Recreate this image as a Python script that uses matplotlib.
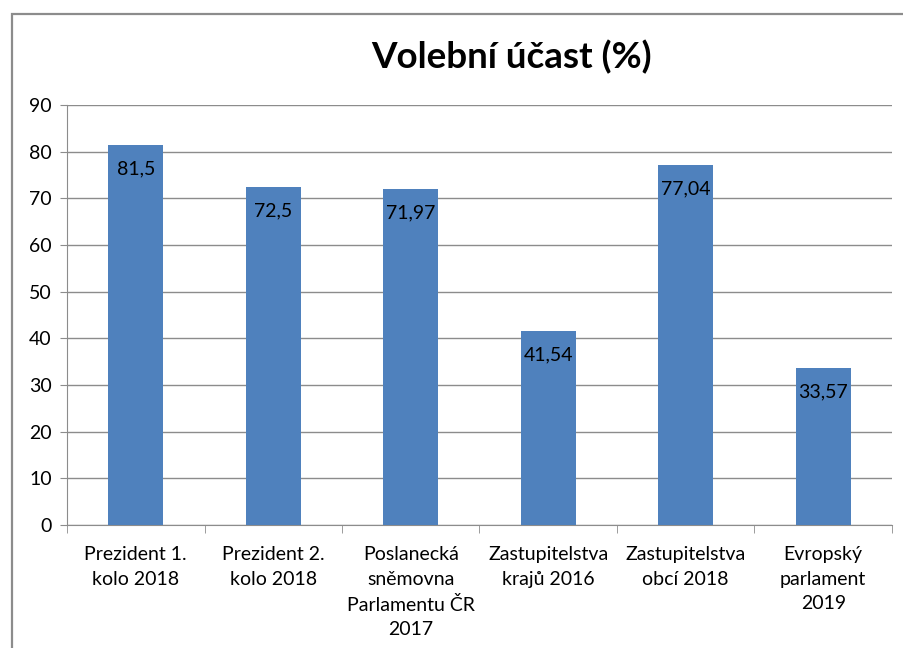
import numpy as np
import matplotlib.pyplot as plt
from matplotlib.patches import Rectangle

# data
categories = ['Prezident 1.\nkolo 2018', 'Prezident 2.\nkolo 2018',
              'Poslanecká\nsněmovna\nParlamentu ČR\n2017',
              'Zastupitelstva\nkrajů 2016', 'Zastupitelstva\nobcí 2018',
              'Evropský\nparlament\n2019']
turnout = [81.5, 72.5, 71.97, 41.54, 77.04, 33.57]
value_labels = ['81,5', '72,5', '71,97', '41,54', '77,04', '33,57']

plt.rcParams['font.family'] = ['Lato', 'DejaVu Sans']

fig = plt.figure(figsize=(9.04, 6.48), dpi=100)
W, H = 904, 648

# outer chart frame (cropped at right and bottom)
fig.patches.append(Rectangle((12 / W, -0.1), 2, 1 - 14 / H + 0.1,
                             transform=fig.transFigure, fill=False,
                             edgecolor='#8c8c8c', linewidth=1.6))

ax = fig.add_axes([67 / W, 1 - 525 / H, (892 - 67) / W, (525 - 105) / H])

x = np.arange(len(categories))
bars = ax.bar(x, turnout, width=0.4, color='#4F81BD', zorder=3)

for xi, v, lab in zip(x, turnout, value_labels):
    ax.annotate(lab, (xi, v), xytext=(0, -11), textcoords='offset points',
                ha='center', va='top', fontsize=14, color='black', zorder=4)

ax.set_xlim(-0.5, len(categories) - 0.5)
ax.set_ylim(0, 90)
ax.set_yticks(range(0, 91, 10))
ax.yaxis.grid(True, color='#8c8c8c', linewidth=1, zorder=0)

ax.set_xticks(x)
ax.set_xticklabels(categories, fontsize=14, linespacing=1.55)
ax.set_xticks(np.arange(-0.5, len(categories)), minor=True)
ax.tick_params(axis='x', which='major', length=0, pad=15)
ax.tick_params(axis='x', which='minor', length=6, color='#8c8c8c')
ax.tick_params(axis='y', length=5, color='#8c8c8c', labelsize=14, pad=6)

for s in ['top', 'right']:
    ax.spines[s].set_visible(False)
for s in ['left', 'bottom']:
    ax.spines[s].set_color('#8c8c8c')

fig.text(512 / W, 1 - 57 / H, 'Volební účast (%)', ha='center', va='center',
         fontsize=26.5, fontweight='bold')

fig.savefig('out.png', dpi=100)
